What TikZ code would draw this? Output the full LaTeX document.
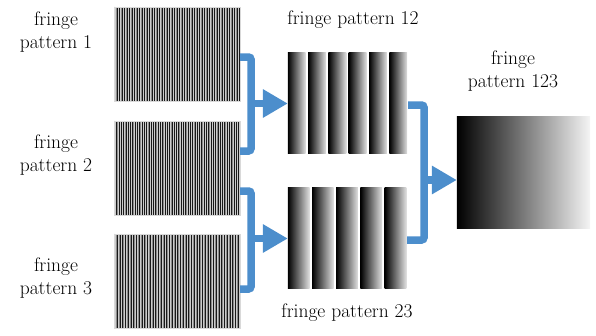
\documentclass[tikz,border=0pt]{standalone}
\usetikzlibrary{arrows.meta,calc}
\definecolor{conblue}{RGB}{76,142,204}
\begin{document}
\begin{tikzpicture}[x=1pt,y=-1pt,
  lbl/.style={font=\fontsize{19.5}{23}\selectfont, align=center, inner sep=0pt},
  imgbox/.style={draw=none, inner sep=0pt, minimum width=#1},
  conn/.style={draw=conblue, line width=7.5pt, rounded corners=2.5pt, line cap=butt},
  arr/.style={draw=conblue, line width=7.5pt, -{Triangle[length=25pt,width=27pt]}}
]
\useasboundingbox (0,0) rectangle (596,335);

% image boxes
\node[imgbox=126pt, minimum height=94pt] (p1) at (177,54) {};
\node[imgbox=126pt, minimum height=94pt] (p2) at (177,168) {};
\node[imgbox=126pt, minimum height=94pt] (p3) at (177,281) {};
\node[imgbox=120pt, minimum height=101pt] (p12) at (348,103.5) {};
\node[imgbox=119pt, minimum height=101pt] (p23) at (347.5,238.5) {};
\node[imgbox=133pt, minimum height=111pt] (p123) at (523.5,172.5) {};

% fine fringe patterns
\foreach \b/\p/\n in {p1/2.5/51, p2/2.3/55, p3/2.75/46}{
  \begin{scope}
    \clip (\b.north west) rectangle (\b.south east);
    \fill[black!45] (\b.north west) rectangle (\b.south east);
    \foreach \i in {0,...,\n}{
      \draw[line width=0.7pt, black!90] ($(\b.north west)+(\i*\p+0.6,0)$) -- ++(0,94);
      \draw[line width=0.6pt, black!20] ($(\b.north west)+(\i*\p+0.6+0.5*\p,0)$) -- ++(0,94);
    }
  \end{scope}
  \draw[black!15, line width=0.6pt] (\b.north west) rectangle (\b.south east);
}

% coarse fringe pattern 12
\foreach \i in {0,...,5}{
  \shade[left color=black, right color=black!12]
    ($(p12.north west)+(\i*20.3,0)$) rectangle ++(17.9,101);
}
% coarse fringe pattern 23
\foreach \i in {0,...,4}{
  \shade[left color=black, right color=black!12]
    ($(p23.north west)+(\i*24.2,0)$) rectangle ++(21.7,101);
}
% fringe pattern 123
\shade[left color=black, right color=black!4] (p123.north west) rectangle (p123.south east);

% connectors
\coordinate (j1) at (251,103.5);
\coordinate (j2) at (251,238.5);
\coordinate (j3) at (424,180);
\draw[conn] ([yshift=-3pt]p1.east) -| (j1) |- ([yshift=17pt]p2.east);
\draw[arr] (j1) -- (j1 -| p12.west);
\draw[conn] ([yshift=-23pt]p2.east) -| (j2) |- ([yshift=-8pt]p3.east);
\draw[arr] (j2) -- (j2 -| p23.west);
\draw[conn] ([yshift=-1.5pt]p12.east) -| (j3) |- ([yshift=-1.5pt]p23.east);
\draw[arr] (j3) -- (j3 -| p123.west);

% labels
\node[lbl] (t1) at (56,32) {fringe\\pattern 1};
\node[lbl] (t2) at (56,155) {fringe\\pattern 2};
\node[lbl] (t3) at (56,278) {fringe\\pattern 3};
\node[lbl] (t12) at (353,20) {fringe pattern 12};
\node[lbl] (t23) at (347,313) {fringe pattern 23};
\node[lbl] (t123) at (513,71) {fringe\\pattern 123};
\end{tikzpicture}
\end{document}
